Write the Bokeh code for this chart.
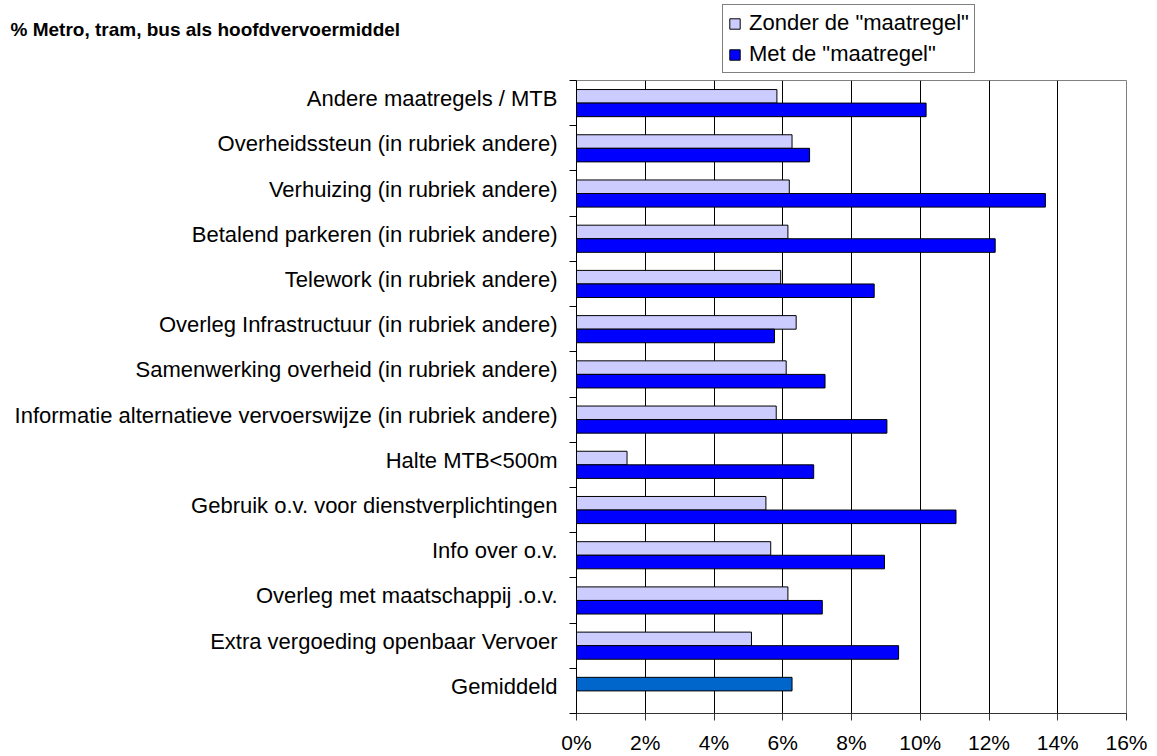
from bokeh.plotting import figure
from bokeh.layouts import column
from bokeh.models import (Range1d, FixedTicker, PrintfTickFormatter, Legend,
                          LegendItem, Label, ColumnDataSource)
from bokeh.embed import file_html
from bokeh.resources import INLINE

# ---------------- data (top to bottom as shown) ----------------
categories = [
    "Andere maatregels / MTB",
    "Overheidssteun (in rubriek andere)",
    "Verhuizing (in rubriek andere)",
    "Betalend parkeren (in rubriek andere)",
    "Telework (in rubriek andere)",
    "Overleg Infrastructuur (in rubriek andere)",
    "Samenwerking overheid (in rubriek andere)",
    "Informatie alternatieve vervoerswijze (in rubriek andere)",
    "Halte MTB<500m",
    "Gebruik o.v. voor dienstverplichtingen",
    "Info over o.v.",
    "Overleg met maatschappij .o.v.",
    "Extra vergoeding openbaar Vervoer",
    "Gemiddeld",
]
zonder = [5.83, 6.27, 6.19, 6.15, 5.94, 6.39, 6.10, 5.81, 1.47, 5.51, 5.65, 6.15, 5.09, 6.27]
met = [10.17, 6.78, 13.64, 12.18, 8.66, 5.76, 7.23, 9.03, 6.90, 11.04, 8.96, 7.15, 9.37, None]
legend_labels = ['Zonder de "maatregel"', 'Met de "maatregel"']
x_ticks = [0, 2, 4, 6, 8, 10, 12, 14, 16]
title_text = "%  Metro, tram, bus als hoofdvervoermiddel"

FONT = "Liberation Sans"
C_ZONDER = "#CCCCFF"
C_MET = "#0000FF"
C_AVG = "#0066CC"
W = 1157
HEAD_H = 78
MAIN_H = 678

n = len(categories)
pos = [n - 0.5 - i for i in range(n)]
BAR_H = 0.3
OFF = 0.15
LABEL_SHIFT = 0.1

is_avg = [c == "Gemiddeld" for c in categories]
src_z = ColumnDataSource(dict(
    y=[p_ + OFF for p_, a in zip(pos, is_avg) if not a],
    v=[v for v, a in zip(zonder, is_avg) if not a]))
src_avg = ColumnDataSource(dict(
    y=[p_ + OFF for p_, a in zip(pos, is_avg) if a],
    v=[v for v, a in zip(zonder, is_avg) if a]))
src_m = ColumnDataSource(dict(
    y=[p_ - OFF for p_, v in zip(pos, met) if v is not None],
    v=[v for v in met if v is not None]))

# ---------------- header: title + legend ----------------
head = figure(width=W, height=HEAD_H, x_range=Range1d(0, W), y_range=Range1d(0, HEAD_H),
              output_backend="svg", toolbar_location=None,
              min_border_left=0, min_border_right=0, min_border_top=0, min_border_bottom=0)
head.frame_align = False
head.axis.visible = False
head.grid.visible = False
head.outline_line_color = None
head.background_fill_color = "white"
head.border_fill_color = "white"

# legend proxies: the same series, mapped onto ranges that lie far outside the header view
head.extra_y_ranges = {"proxy": Range1d(-200, -100)}
head.extra_x_ranges = {"proxy": Range1d(-200, -100)}
lz = head.hbar(y="y", left=0, right="v", height=BAR_H, source=src_z,
               y_range_name="proxy", x_range_name="proxy",
               fill_color=C_ZONDER, line_color="black", line_width=1)
lm = head.hbar(y="y", left=0, right="v", height=BAR_H, source=src_m,
               y_range_name="proxy", x_range_name="proxy",
               fill_color=C_MET, line_color="black", line_width=1)

title = Label(x=10, y=49, text=title_text,
              text_font=FONT, text_font_size="19px", text_font_style="bold",
              text_baseline="alphabetic", text_align="left", text_color="black")
head.add_layout(title)

legend = Legend(items=[LegendItem(label=legend_labels[0], renderers=[lz]),
                       LegendItem(label=legend_labels[1], renderers=[lm])],
                location=(722, 5), orientation="vertical")
legend.label_text_font = FONT
legend.label_text_font_size = "22px"
legend.label_text_color = "black"
legend.label_height = 26
legend.padding = 5
legend.spacing = 5
legend.margin = 0
legend.label_standoff = 8
legend.glyph_width = 13
legend.glyph_height = 13
legend.border_line_color = "black"
legend.border_line_width = 1
legend.background_fill_color = "white"
legend.background_fill_alpha = 1
head.add_layout(legend, "center")

# ---------------- main chart ----------------
p = figure(width=W, height=MAIN_H, x_range=Range1d(0, 16), y_range=Range1d(0, n),
           output_backend="svg", toolbar_location=None,
           min_border_left=576, min_border_right=31, min_border_top=2, min_border_bottom=43)
p.frame_align = False
p.background_fill_color = "white"
p.border_fill_color = "white"
p.outline_line_color = "#808080"
p.outline_line_width = 1

p.ygrid.visible = False
p.xgrid.ticker = FixedTicker(ticks=x_ticks[1:-1])
p.xgrid.grid_line_color = "black"
p.xgrid.grid_line_width = 1

p.hbar(y="y", left=0, right="v", height=BAR_H, source=src_z,
       fill_color=C_ZONDER, line_color="black", line_width=1)
p.hbar(y="y", left=0, right="v", height=BAR_H, source=src_m,
       fill_color=C_MET, line_color="black", line_width=1)
p.hbar(y="y", left=0, right="v", height=BAR_H, source=src_avg,
       fill_color=C_AVG, line_color="black", line_width=1)

xa = p.xaxis[0]
xa.ticker = FixedTicker(ticks=x_ticks)
xa.formatter = PrintfTickFormatter(format="%d%%")
xa.major_tick_out = 7
xa.major_tick_in = 0
xa.minor_tick_out = 0
xa.minor_tick_in = 0
xa.axis_line_color = "#333333"
xa.major_tick_line_color = "#333333"
xa.major_label_text_font = FONT
xa.major_label_text_font_size = "21px"
xa.major_label_text_color = "black"
xa.major_label_standoff = 10

label_pos = [pp + LABEL_SHIFT for pp in pos]
ya = p.yaxis[0]
ya.ticker = FixedTicker(ticks=label_pos, minor_ticks=list(range(n + 1)))
ya.major_label_overrides = {pp: c for pp, c in zip(label_pos, categories)}
ya.major_tick_out = 0
ya.major_tick_in = 0
ya.minor_tick_out = 7
ya.minor_tick_in = 0
ya.minor_tick_line_color = "black"
ya.axis_line_color = "black"
ya.major_label_text_font = FONT
ya.major_label_text_font_size = "22px"
ya.major_label_text_color = "black"
ya.major_label_standoff = 12

layout = column(head, p, spacing=0)
open("out.html", "w").write(file_html(layout, INLINE))
